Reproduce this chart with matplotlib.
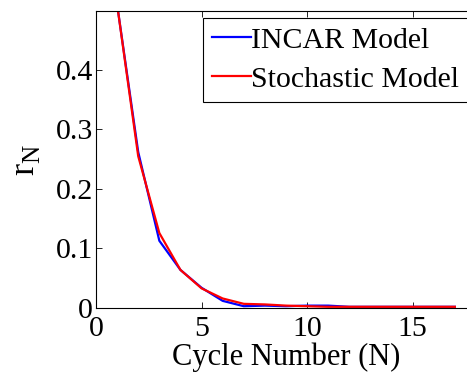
import matplotlib
matplotlib.use("Agg")
import matplotlib.pyplot as plt

N = [1, 2, 3, 4, 5, 6, 7, 8, 9, 10, 11, 12, 13, 14, 15, 16, 17]
incar = [0.51, 0.262, 0.113, 0.064, 0.034, 0.012, 0.003, 0.004, 0.003, 0.004, 0.004, 0.002, 0.002, 0.002, 0.002, 0.002, 0.002]
stoch = [0.51, 0.255, 0.126, 0.064, 0.033, 0.016, 0.007, 0.006, 0.004, 0.003, 0.002, 0.002, 0.002, 0.002, 0.002, 0.002, 0.002]
xticks = [0, 5, 10, 15]
yticks = [0, 0.1, 0.2, 0.3, 0.4]
ytick_labels = ["0", "0.1", "0.2", "0.3", "0.4"]

plt.rcParams['font.family'] = ['Liberation Serif', 'DejaVu Serif']
fig = plt.figure(figsize=(4.67, 3.76), dpi=100)
ax = fig.add_axes([96/467, 68/376, 380/467, 297/376])
ax.plot(N, incar, color='blue', lw=1.6, label='INCAR Model')
ax.plot(N, stoch, color='red', lw=1.6, label='Stochastic Model')
ax.set_xlim(0, 18)
ax.set_ylim(0, 0.499)
ax.set_xticks(xticks)
ax.set_yticks(yticks)
ax.set_yticklabels(ytick_labels)
ax.tick_params(direction='in', top=True, right=True, labelsize=21.5, length=4, width=0.6)
ax.tick_params(axis='x', pad=6)
ax.tick_params(axis='y', pad=2)
for s in ax.spines.values():
    s.set_linewidth(0.8)
ax.set_xlabel('Cycle Number (N)', fontsize=22, labelpad=0)
ax.set_ylabel('r$_\\mathregular{N}$', fontsize=26, labelpad=10)
leg = fig.legend(loc='upper left', bbox_to_anchor=(203/467, 1 - 18/376), fontsize=21.5,
                 frameon=True, fancybox=False, edgecolor='black', framealpha=1,
                 handlelength=1.3, handletextpad=0.0, borderpad=0.3, labelspacing=0.4,
                 borderaxespad=0)
leg.get_frame().set_linewidth(0.8)
fig.savefig('out.png', dpi=100)
